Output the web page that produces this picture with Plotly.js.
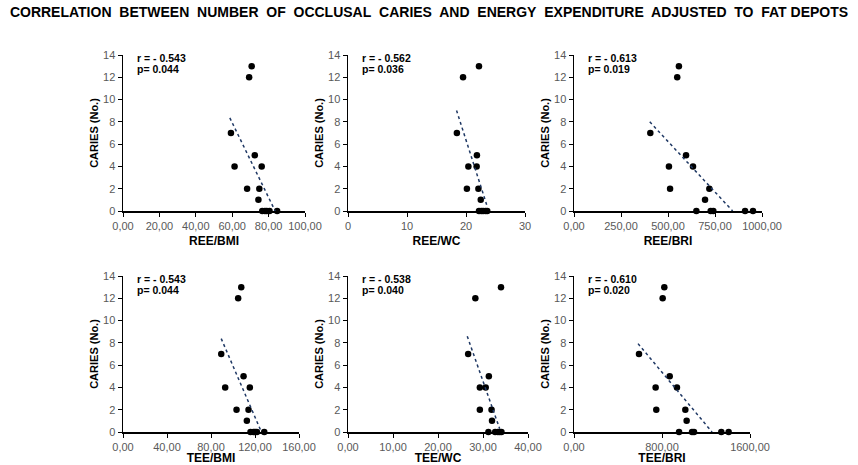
<!DOCTYPE html>
<html>
<head>
<meta charset="utf-8">
<script src="https://cdn.plot.ly/plotly-3.0.1.min.js"></script>
<style>
html, body { margin: 0; padding: 0; background: #fff; }
#chart { width: 858px; height: 465px; }
</style>
</head>
<body>
<div id="chart"></div>
<script>
"use strict"
// number of occlusal caries per child (same children in every panel)
var caries = [13, 12, 7, 4, 5, 4, 2, 2, 1, 0, 0, 0, 0, 0];

// energy expenditure adjusted to fat depots
var reeBmi = [70.7, 69.3, 59.3, 61.3, 72.4, 76.2, 68.2, 74.9, 74.4, 76.5, 78.0, 79.0, 80.5, 84.7];
var reeWc  = [22.2, 19.5, 18.45, 20.4, 21.85, 21.8, 20.15, 22.1, 22.5, 22.2, 22.6, 22.9, 23.3, 23.6];
var reeBri = [558, 549, 406, 505, 596, 633, 511, 720, 697, 651, 727, 741, 910, 952];
var teeBmi = [107.5, 104.7, 89.3, 92.9, 109.6, 115.3, 103.2, 114.1, 112.6, 115.9, 118.6, 120.0, 121.7, 128.4];
var teeWc  = [34.0, 28.3, 26.7, 29.3, 31.3, 30.6, 29.3, 31.9, 32.0, 31.2, 32.7, 33.3, 33.7, 34.1];
var teeBri = [821, 806, 591, 742, 870, 936, 748, 1012, 1024, 955, 1073, 1091, 1339, 1406];

// linear trendlines (start / end)
var trendReeBmiX = [58.7, 83.6],  trendReeBmiY = [8.36, 0];
var trendReeWcX  = [18.4, 23.5],  trendReeWcY  = [9.02, 0.57];
var trendReeBriX = [403, 844],    trendReeBriY = [8.0, 0];
var trendTeeBmiX = [89.3, 125.8], trendTeeBmiY = [8.38, 0];
var trendTeeWcX  = [26.5, 33.7],  trendTeeWcY  = [8.59, 0.3];
var trendTeeBriX = [582, 1255],   trendTeeBriY = [7.93, 0];

var xTitles = ['REE/BMI', 'REE/WC', 'REE/BRI', 'TEE/BMI', 'TEE/WC', 'TEE/BRI'];
var rLabels = ['r = - 0.543', 'r = - 0.562', 'r = - 0.613', 'r = - 0.543', 'r = - 0.538', 'r = - 0.610'];
var pLabels = ['p= 0.044', 'p= 0.036', 'p= 0.019', 'p= 0.044', 'p= 0.040', 'p= 0.020'];
var xRanges = [[0, 100], [0, 30], [0, 1000], [0, 160], [0, 40], [0, 1600]];
var xSteps  = [20, 10, 250, 40, 10, 800];
var xFormats = ['.2f', 'd', '.2f', '.2f', '.2f', '.2f'];

var xValues = [reeBmi, reeWc, reeBri, teeBmi, teeWc, teeBri];
var trendX = [trendReeBmiX, trendReeWcX, trendReeBriX, trendTeeBmiX, trendTeeWcX, trendTeeBriX];
var trendY = [trendReeBmiY, trendReeWcY, trendReeBriY, trendTeeBmiY, trendTeeWcY, trendTeeBriY];

var W = 858, H = 465;
// plot boxes in pixels: [left, right, top, bottom]
var boxes = [
    [123, 305, 55, 211], [348, 525, 55, 211], [574, 762, 55, 211],
    [123, 299, 276, 432], [348, 528, 276, 432], [574, 750, 276, 432]
];

var fam = 'Liberation Sans, Arial, sans-serif';
var tickFont = { family: fam, size: 11, color: '#595959' };
var boldFont = { family: fam, size: 12, color: '#000' };
var statFont = { family: fam, size: 10.5, color: '#000' };

var data = [];
var annotations = [];
var layout = {
    width: W,
    height: H,
    margin: { l: 0, r: 0, t: 0, b: 0 },
    paper_bgcolor: '#fff',
    plot_bgcolor: '#fff',
    showlegend: false,
    separators: ',.',
    title: {
        text: '<b>' + 'CORRELATION  BETWEEN  NUMBER  OF  OCCLUSAL  CARIES  AND  ENERGY  EXPENDITURE  ADJUSTED  TO  FAT DEPOTS'.replace(/  /g, '\u00a0 ') + '</b>',
        x: 0.5,
        xanchor: 'center',
        y: 1 - 12 / H,
        yanchor: 'middle',
        font: { family: fam, size: 14, color: '#000' }
    }
};

for (let i = 0; i < 6; i++) {
    let n = i === 0 ? '' : String(i + 1);
    let b = boxes[i];

    data.push({
        x: xValues[i],
        y: caries,
        xaxis: 'x' + n,
        yaxis: 'y' + n,
        type: 'scatter',
        mode: 'markers',
        cliponaxis: false,
        hoverinfo: 'none',
        marker: { color: '#000', size: 6.5 }
    });
    data.push({
        x: trendX[i],
        y: trendY[i],
        xaxis: 'x' + n,
        yaxis: 'y' + n,
        type: 'scatter',
        mode: 'lines',
        hoverinfo: 'none',
        line: { color: '#1f3864', width: 1.5, dash: 'dot' }
    });

    layout['xaxis' + n] = {
        domain: [b[0] / W, b[1] / W],
        anchor: 'y' + n,
        range: xRanges[i],
        dtick: xSteps[i],
        tick0: 0,
        tickformat: xFormats[i],
        showgrid: false,
        zeroline: false,
        showline: true,
        linecolor: '#000',
        linewidth: 1.5,
        ticks: 'outside',
        ticklen: 4,
        tickcolor: '#000',
        tickfont: tickFont,
        title: { text: '<b>' + xTitles[i] + '</b>', font: boldFont, standoff: 6 }
    };
    layout['yaxis' + n] = {
        domain: [1 - b[3] / H, 1 - b[2] / H],
        anchor: 'x' + n,
        range: [0, 14],
        dtick: 2,
        showgrid: false,
        zeroline: false,
        showline: true,
        linecolor: '#000',
        linewidth: 1.5,
        ticks: 'outside',
        ticklen: 4,
        tickcolor: '#000',
        tickfont: tickFont,
        title: { text: '<b>CARIES (No.)</b>', font: { family: fam, size: 11, color: '#000' }, standoff: 2 }
    };

    annotations.push({
        xref: 'x' + n + ' domain', yref: 'y' + n + ' domain',
        x: 0, y: 1, xshift: 12, yshift: -3,
        xanchor: 'left', yanchor: 'middle',
        text: '<b>' + rLabels[i] + '</b>', showarrow: false, font: statFont
    });
    annotations.push({
        xref: 'x' + n + ' domain', yref: 'y' + n + ' domain',
        x: 0, y: 1, xshift: 12, yshift: -14,
        xanchor: 'left', yanchor: 'middle',
        text: '<b>' + pLabels[i] + '</b>', showarrow: false, font: statFont
    });
}
layout.annotations = annotations;

Plotly.newPlot('chart', data, layout, { staticPlot: true });
</script>
</body>
</html>
